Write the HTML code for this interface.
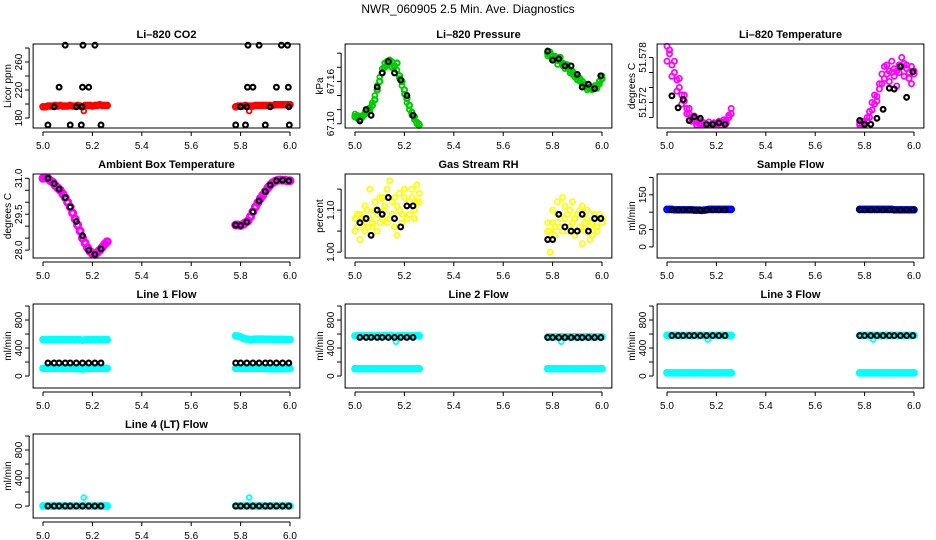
<!DOCTYPE html>
<html><head><meta charset="utf-8">
<style>
html,body{margin:0;padding:0;background:#fff;}
svg{display:block;font-family:"Liberation Sans",sans-serif;}
</style></head>
<body>
<svg id="chart" width="936" height="540" viewBox="0 0 936 540">
<rect x="0" y="0" width="936" height="540" fill="#fff"/>
<text x="468" y="13" text-anchor="middle" font-size="12">NWR_060905  2.5 Min. Ave. Diagnostics</text>
</svg>
<script>
// shared time axes
const xDense = [5.00,5.01,5.02,5.03,5.04,5.05,5.06,5.07,5.08,5.09,5.10,5.11,5.12,5.13,5.14,5.15,5.16,5.17,5.18,5.19,5.20,5.21,5.22,5.23,5.24,5.25,5.26,
5.78,5.79,5.80,5.81,5.82,5.83,5.84,5.85,5.86,5.87,5.88,5.89,5.90,5.91,5.92,5.93,5.94,5.95,5.96,5.97,5.98,5.99,6.00];
const xBlack = [5.02,5.045,5.065,5.09,5.11,5.135,5.16,5.185,5.21,5.235,5.78,5.80,5.825,5.85,5.875,5.90,5.92,5.945,5.97,5.995];
const xTicks = [5.0,5.2,5.4,5.6,5.8,6.0];
const xTickLabels = ['5.0','5.2','5.4','5.6','5.8','6.0'];

// CO2
const co2Red = [196,196,197,197,197,198,197,198,197,197,197,198,197,197,198,197,196,198,198,198,197,198,198,199,198,198,198,
196,197,197,197,198,197,197,197,198,198,198,198,198,198,198,198,199,199,199,199,199,199,199];
const co2BlackX = [5.02,5.045,5.065,5.09,5.11,5.135,5.155,5.158,5.16,5.162,5.185,5.21,5.235,5.78,5.80,5.82,5.825,5.828,5.83,5.85,5.875,5.90,5.92,5.945,5.965,5.99,5.993,5.995,5.997];
const co2Black = [170,196,224,284,170,196,170,196,224,284,224,284,170,170,196,170,196,224,284,224,284,170,196,224,284,284,224,196,170];
const co2Outlier = [[5.165,190],[5.835,190]];

// Pressure
const presGreen = [67.110,67.108,67.106,67.110,67.114,67.118,67.122,67.126,67.134,67.148,67.160,67.172,67.180,67.188,67.190,67.180,67.182,67.186,67.168,67.160,67.148,67.136,67.126,67.116,67.110,67.102,67.098,
67.200,67.198,67.196,67.192,67.190,67.194,67.186,67.184,67.180,67.176,67.174,67.170,67.166,67.164,67.160,67.156,67.152,67.150,67.150,67.150,67.154,67.160,67.164];
const presGreen2 = [67.114,67.112,67.110,67.112,67.116,67.120,67.118,67.130,67.140,67.154,67.166,67.178,67.186,67.182,67.186,67.188,67.180,67.176,67.164,67.154,67.142,67.130,67.120,67.112,67.106,67.100,67.100,
67.196,67.202,67.192,67.196,67.184,67.188,67.182,67.178,67.184,67.172,67.170,67.166,67.162,67.160,67.156,67.152,67.148,67.152,67.148,67.154,67.150,67.156,67.168];
const presBlack = [67.104,67.120,67.112,67.152,67.172,67.188,67.172,67.162,67.140,67.112,67.203,67.190,67.192,67.182,67.182,67.170,67.152,67.156,67.150,67.168];

// Li-820 temperature
const tempMagA = [51.5795,51.5785,51.5770,51.5760,51.5750,51.5740,51.5730,51.5722,51.5712,51.5705,51.5700,51.5697,51.5694,51.5692,51.5690,51.5690,51.5690,51.5690,51.5691,51.5690,51.5692,51.5692,51.5693,51.5694,51.5696,51.5700,51.5712,
51.5692,51.5690,51.5692,51.5695,51.5700,51.5710,51.5718,51.5728,51.5738,51.5745,51.5752,51.5758,51.5762,51.5760,51.5755,51.5762,51.5770,51.5768,51.5772,51.5765,51.5760,51.5768,51.5762];
const tempMagB = [51.5775,51.5790,51.5755,51.5775,51.5735,51.5752,51.5718,51.5730,51.5705,51.5712,51.5695,51.5702,51.5690,51.5696,51.5692,51.5693,51.5690,51.5694,51.5690,51.5693,51.5690,51.5695,51.5690,51.5697,51.5692,51.5703,51.5705,
51.5690,51.5695,51.5690,51.5700,51.5708,51.5720,51.5730,51.5722,51.5745,51.5758,51.5768,51.5770,51.5748,51.5775,51.5765,51.5742,51.5760,51.5780,51.5755,51.5770,51.5752,51.5745,51.5758];
const tempBlack = [51.5729,51.5713,51.5724,51.5696,51.5701,51.5699,51.5691,51.5691,51.5693,51.5691,51.5696,51.5691,51.5691,51.5699,51.5711,51.5739,51.5738,51.5768,51.5727,51.5761];

// Ambient box temperature
const ambMag = [31.0,31.02,31.0,30.9,30.83,30.7,30.6,30.5,30.35,30.2,30.0,29.8,29.55,29.3,29.05,28.8,28.5,28.3,28.1,27.95,27.85,27.82,27.9,28.0,28.12,28.25,28.35,
29.05,29.05,29.03,29.08,29.15,29.22,29.4,29.6,29.8,29.98,30.15,30.3,30.45,30.6,30.72,30.82,30.88,30.92,30.93,30.92,30.92,30.9,30.9];
const ambBlack = [31.0,30.78,30.55,30.2,29.8,29.2,28.6,28.0,27.82,28.05,29.05,29.03,29.18,29.6,30.05,30.45,30.72,30.9,30.92,30.9];

// Gas stream RH
const rhYelA = [1.08,1.06,1.09,1.07,1.05,1.10,1.08,1.06,1.12,1.09,1.07,1.13,1.10,1.15,1.08,1.12,1.06,1.11,1.14,1.09,1.13,1.08,1.12,1.15,1.10,1.16,1.12,
1.05,1.00,1.07,1.04,1.09,1.06,1.13,1.08,1.05,1.10,1.07,1.04,1.09,1.06,1.11,1.05,1.08,1.03,1.07,1.09,1.06,1.08,1.07];
const rhYelB = [1.05,1.09,1.03,1.08,1.11,1.06,1.15,1.07,1.10,1.05,1.13,1.08,1.11,1.07,1.17,1.09,1.13,1.04,1.10,1.07,1.15,1.11,1.09,1.13,1.08,1.12,1.14,
1.07,1.05,1.10,1.06,1.12,1.08,1.05,1.11,1.09,1.06,1.12,1.08,1.05,1.10,1.02,1.07,1.10,1.06,1.04,1.08,1.05,1.09,1.08];
const rhBlack = [1.07,1.08,1.04,1.10,1.09,1.13,1.08,1.06,1.11,1.11,1.03,1.03,1.09,1.06,1.05,1.05,1.09,1.05,1.08,1.08];

// Sample flow
const sampBlue = [108,108,108,107,107,107,107,107,107,107,107,106,106,106,105,106,107,108,108,108,108,108,108,108,108,108,108,
108,108,108,108,108,108,108,108,108,108,108,108,108,108,107,107,107,107,107,107,107,107,107];
const sampBlack = [107,107,107,107,107,106,106,107,107,107,107,107,107,107,107,107,107,107,107,107];

// Line 1 flow
const l1Top = [520,518,518,520,520,520,522,522,520,522,520,522,520,518,520,518,512,518,520,518,520,518,520,518,518,520,520,
575,570,560,540,530,528,520,525,528,528,528,528,526,526,526,525,525,525,525,525,522,522,522];
const l1Bot = [110,110,108,110,110,110,110,110,108,110,110,110,110,108,106,108,100,108,110,110,110,110,110,110,110,110,110,
110,110,110,110,110,110,110,110,110,110,110,110,110,106,106,106,108,106,106,106,108,108,108];
const l1Black = [186,186,186,186,186,186,186,186,186,186,186,186,186,186,186,186,186,186,186,186];

// Line 2 flow
const l2Top = [575,575,575,575,575,575,575,575,575,575,575,575,578,578,578,575,570,575,575,575,575,575,575,575,575,575,575,
560,560,560,560,560,560,560,560,560,560,560,560,560,560,560,560,560,560,560,560,560,560,560];
const l2Bot = [105,105,105,105,105,105,105,105,105,105,105,105,105,105,105,105,105,105,105,105,105,105,105,105,105,105,105,
105,105,105,105,105,105,105,105,105,105,105,105,105,105,105,105,105,105,105,105,105,105,105];
const l2Black = [552,552,552,552,552,552,552,552,552,552,550,550,550,550,550,550,550,550,550,550];
const l2Outlier = [[5.165,490],[5.835,490]];

// Line 3 flow
const l3Top = [580,580,580,580,580,580,580,580,580,580,580,580,580,580,580,580,575,580,580,580,580,580,580,580,580,580,580,
580,580,580,580,580,580,580,580,580,580,580,580,580,580,580,580,580,580,580,580,580,580,580];
const l3Bot = [45,45,45,45,45,45,45,45,45,45,45,45,45,45,45,45,45,45,45,45,45,45,45,45,45,45,45,
45,45,45,45,45,45,45,45,45,45,45,45,45,45,45,45,45,45,45,45,45,45,45];
const l3Black = [578,578,578,578,578,578,578,578,578,578,578,578,578,578,578,578,578,578,578,578];
const l3Outlier = [[5.165,520],[5.835,520]];

// Line 4 flow
const l4Cyan = [0,0,0,0,0,0,0,0,0,0,0,0,0,0,0,0,0,0,0,0,0,0,0,0,0,0,0,
0,0,0,0,0,0,0,0,0,0,0,0,0,0,0,0,0,0,0,0,0,0,0];
const l4Black = [0,0,0,0,0,0,0,0,0,0,0,0,0,0,0,0,0,0,0,0];
const l4Outlier = [[5.165,120],[5.835,120]];

const flowTicks = [0,200,400,600,800,1000];
const flowLabels = ['0','','400','','800',''];

const svg = document.getElementById('chart');
const NS = 'http://www.w3.org/2000/svg';
function mk(tag, attrs, parent){
  const e = document.createElementNS(NS, tag);
  for (const k in attrs) e.setAttribute(k, attrs[k]);
  (parent||svg).appendChild(e);
  return e;
}

function panel(p){
  const g = mk('g', {});
  
  
  const ox = 312*p.col, top = 44 + 130*p.row, bot = top + 84;
  const xs = v => ox + 43 + (v-5)*247;
  const ys = v => bot - (v - p.ymin)/(p.ymax - p.ymin)*(bot-top);
  const left = xs(4.96), right = xs(6.04);
  p.series.forEach(s => {
    const sg = mk('g', {fill:'none', stroke:s.color, 'stroke-width': s.sw||1.8}, g);
    
    
    for (let i=0;i<s.y.length;i++){
      const c = mk('circle', {cx:xs(s.x[i]).toFixed(1), cy:ys(s.y[i]).toFixed(1), r:s.r||2.4}, sg);
      
      
    }
  });
  const box = mk('rect', {x:left, y:top, width:right-left, height:bot-top, fill:'none', stroke:'#000', 'stroke-width':1}, g);
  
  
  const t = mk('text', {x:(left+right)/2, y:top-6, 'text-anchor':'middle', 'font-size':11, 'font-weight':'bold'}, g);
  t.textContent = p.title;
  
  
  const xa = mk('g', {}, g);
  
  
  mk('line', {x1:xs(5), x2:xs(6), y1:bot+4, y2:bot+4, stroke:'#000'}, xa);
  xTicks.forEach((v,i) => {
    mk('line', {x1:xs(v), x2:xs(v), y1:bot+4, y2:bot+8, stroke:'#000'}, xa);
    const tl = mk('text', {x:xs(v), y:bot+21, 'text-anchor':'middle', 'font-size':10}, xa);
    tl.textContent = xTickLabels[i];
    
    
  });
  const ya = mk('g', {}, g);
  
  
  const yt = p.ticks;
  mk('line', {x1:left-4, x2:left-4, y1:ys(yt[0]), y2:ys(yt[yt.length-1]), stroke:'#000'}, ya);
  yt.forEach((v,i) => {
    const y = ys(v);
    mk('line', {x1:left-8, x2:left-4, y1:y, y2:y, stroke:'#000'}, ya);
    if (p.labels[i]){
      const lx = left-11;
      const tl = mk('text', {x:lx, y:y, 'text-anchor':'middle', 'font-size':10, transform:`rotate(-90 ${lx} ${y})`}, ya);
      tl.textContent = p.labels[i];
      
      
    }
  });
  const yl = ox + 11, ym = (top+bot)/2;
  const ylab = mk('text', {x:yl, y:ym, 'text-anchor':'middle', 'font-size':10, transform:`rotate(-90 ${yl} ${ym})`}, g);
  ylab.textContent = p.ylab;
  
  
}

const bx = xBlack;
function ox(arr){ return arr.map(a=>a[0]); }
function oy(arr){ return arr.map(a=>a[1]); }

panel({name:'co2-panel', col:0,row:0,title:'Li\u2013820 CO2', ylab:'Licor ppm', ymin:165.7, ymax:285.7,
  ticks:[180,200,220,240,260,280], labels:['180','','220','','260',''],
  series:[{name:'co2-red',x:xDense,y:co2Red,color:'#ff0000',r:2.6,sw:2.4},
          {name:'co2-red-outlier',x:ox(co2Outlier),y:oy(co2Outlier),color:'#ff0000'},
          {name:'co2-black',x:co2BlackX,y:co2Black,color:'#000',sw:2.1}]});
panel({name:'pressure-panel', col:1,row:0,title:'Li\u2013820 Pressure', ylab:'kPa', ymin:67.094, ymax:67.213,
  ticks:[67.10,67.12,67.14,67.16,67.18,67.20], labels:['67.10','','','67.16','',''],
  series:[{name:'pressure-green',x:xDense,y:presGreen,color:'#00cc00',r:2.6,sw:2.2},
          {name:'pressure-green-2',x:xDense,y:presGreen2,color:'#00cc00',r:2.4},
          {name:'pressure-black',x:bx,y:presBlack,color:'#000',sw:2.1}]});
panel({name:'li820-temp-panel', col:2,row:0,title:'Li\u2013820 Temperature', ylab:'degrees C', ymin:51.5686, ymax:51.5798,
  ticks:[51.570,51.572,51.574,51.576,51.578], labels:['','51.572','','','51.578'],
  series:[{name:'temp-magenta-a',x:xDense,y:tempMagA,color:'#ff00ff',r:2.6},
          {name:'temp-magenta-b',x:xDense,y:tempMagB,color:'#ff00ff',r:2.6},
          {name:'temp-black',x:bx,y:tempBlack,color:'#000',sw:2.1}]});
panel({name:'ambient-temp-panel', col:0,row:1,title:'Ambient Box Temperature', ylab:'degrees C', ymin:27.67, ymax:31.18,
  ticks:[28.0,28.5,29.0,29.5,30.0,30.5,31.0], labels:['28.0','','','29.5','','','31.0'],
  series:[{name:'ambient-magenta',x:xDense,y:ambMag,color:'#ff00ff',r:3,sw:3},
          {name:'ambient-black',x:bx,y:ambBlack,color:'#000',sw:2.1}]});
panel({name:'rh-panel', col:1,row:1,title:'Gas Stream RH', ylab:'percent', ymin:0.986, ymax:1.186,
  ticks:[1.00,1.05,1.10,1.15], labels:['1.00','','1.10',''],
  series:[{name:'rh-yellow-a',x:xDense,y:rhYelA,color:'#ffff00',r:2.6},
          {name:'rh-yellow-b',x:xDense,y:rhYelB,color:'#ffff00',r:2.6},
          {name:'rh-black',x:bx,y:rhBlack,color:'#000',sw:2.1}]});
panel({name:'sample-flow-panel', col:2,row:1,title:'Sample Flow', ylab:'ml/min', ymin:-32, ymax:210,
  ticks:[0,50,100,150,200], labels:['0','50','','150',''],
  series:[{name:'sample-blue',x:xDense,y:sampBlue,color:'#0000ff',r:2.6,sw:2.5},
          {name:'sample-black',x:bx,y:sampBlack,color:'#000',sw:2.1}]});
panel({name:'line1-flow-panel', col:0,row:2,title:'Line 1 Flow', ylab:'ml/min', ymin:-171, ymax:1029,
  ticks:flowTicks, labels:flowLabels,
  series:[{name:'line1-cyan-top',x:xDense,y:l1Top,color:'#00ffff',r:2.6,sw:2.5},
          {name:'line1-cyan-bottom',x:xDense,y:l1Bot,color:'#00ffff',r:2.6,sw:2.5},
          {name:'line1-black',x:bx,y:l1Black,color:'#000',sw:2.1}]});
panel({name:'line2-flow-panel', col:1,row:2,title:'Line 2 Flow', ylab:'ml/min', ymin:-171, ymax:1029,
  ticks:flowTicks, labels:flowLabels,
  series:[{name:'line2-cyan-top',x:xDense,y:l2Top,color:'#00ffff',r:2.6,sw:2.5},
          {name:'line2-cyan-bottom',x:xDense,y:l2Bot,color:'#00ffff',r:2.6,sw:2.5},
          {name:'line2-cyan-outlier',x:ox(l2Outlier),y:oy(l2Outlier),color:'#00ffff'},
          {name:'line2-black',x:bx,y:l2Black,color:'#000',sw:2.1}]});
panel({name:'line3-flow-panel', col:2,row:2,title:'Line 3 Flow', ylab:'ml/min', ymin:-171, ymax:1029,
  ticks:flowTicks, labels:flowLabels,
  series:[{name:'line3-cyan-top',x:xDense,y:l3Top,color:'#00ffff',r:2.6,sw:2.5},
          {name:'line3-cyan-bottom',x:xDense,y:l3Bot,color:'#00ffff',r:2.6,sw:2.5},
          {name:'line3-cyan-outlier',x:ox(l3Outlier),y:oy(l3Outlier),color:'#00ffff'},
          {name:'line3-black',x:bx,y:l3Black,color:'#000',sw:2.1}]});
panel({name:'line4-flow-panel', col:0,row:3,title:'Line 4 (LT) Flow', ylab:'ml/min', ymin:-171, ymax:1029,
  ticks:flowTicks, labels:flowLabels,
  series:[{name:'line4-cyan',x:xDense,y:l4Cyan,color:'#00ffff',r:2.6,sw:2.5},
          {name:'line4-cyan-outlier',x:ox(l4Outlier),y:oy(l4Outlier),color:'#00ffff'},
          {name:'line4-black',x:bx,y:l4Black,color:'#000',sw:2.1}]});
</script>
</body></html>
